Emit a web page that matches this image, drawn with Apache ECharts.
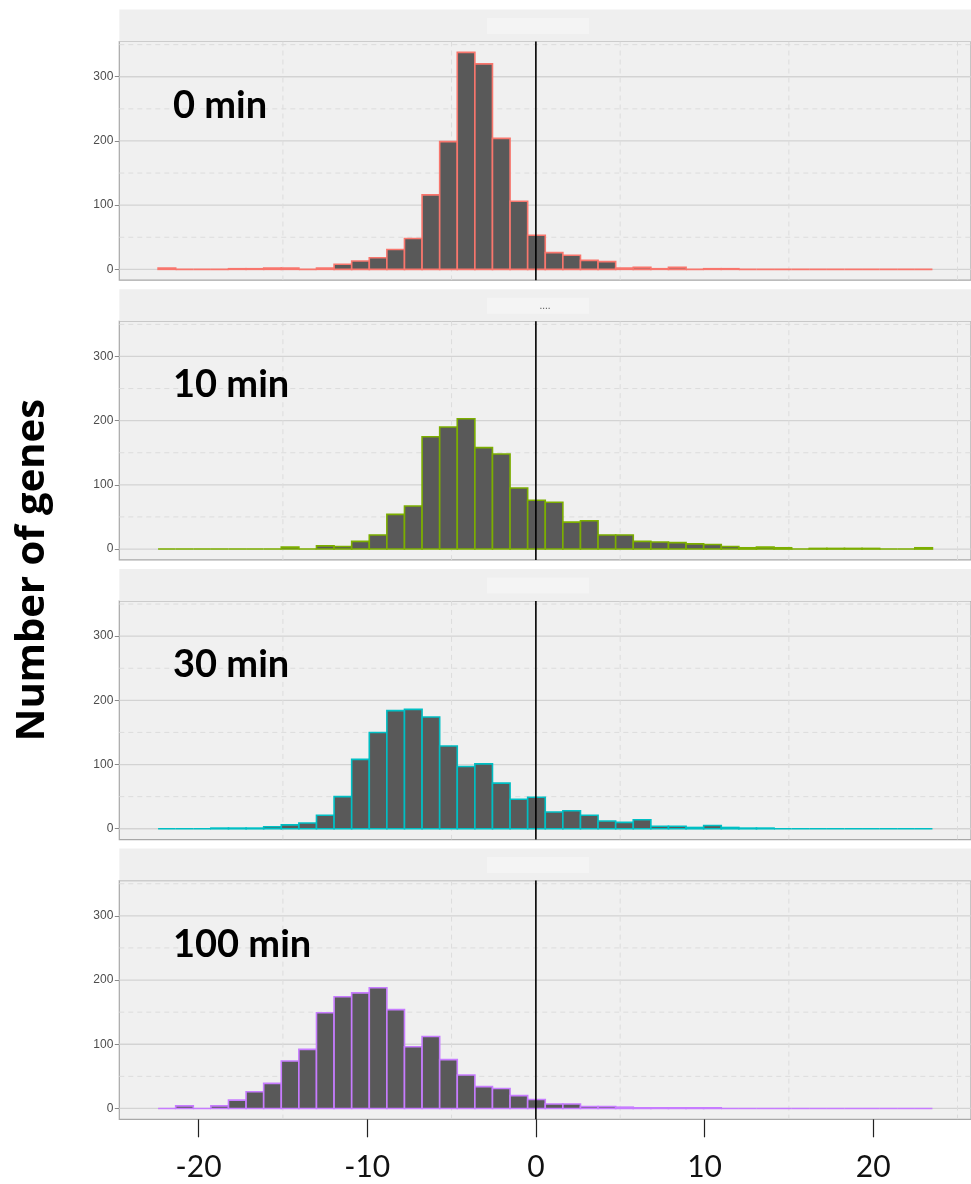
<!DOCTYPE html>
<html><head><meta charset="utf-8">
<script src="https://cdn.jsdelivr.net/npm/echarts@6/dist/echarts.min.js"></script>
<style>html,body{margin:0;padding:0;background:#fff;}#c{width:971px;height:1184px;}</style>
</head><body><div id="c"></div>
<script>
// ---- data ----
const BIN_START = -22.4;
const BIN_WIDTH = 1.0435;
const panelLabels = ['0 min', '10 min', '30 min', '100 min'];
const panelColors = ['#F8766D', '#7CAE00', '#00BFC4', '#C77CFF'];
const counts0 = [2,0,0,0,1,1,2,2,0,2,8,13,18,31,48,116,199,338,320,204,106,53,26,22,14,12,2,3,1,3,0,1,1,0,0,0,0,0,0,0,0,0,0,0];
const counts10 = [0,0,0,0,0,0,0,3,0,5,4,12,22,54,67,175,190,203,158,148,95,76,73,42,44,22,22,12,11,10,8,7,4,2,3,2,0,1,1,1,1,0,0,2];
const counts30 = [0,0,0,1,1,1,3,6,9,21,50,108,150,184,186,174,129,97,101,71,46,49,26,28,21,12,10,14,4,4,2,5,2,1,1,0,0,0,0,0,0,0,0,0];
const counts100 = [0,4,0,4,13,26,39,74,92,149,174,180,188,154,96,112,76,52,34,31,20,14,7,7,3,3,2,1,1,1,1,1,0,0,0,0,0,0,0,0,0,0,0,0];
const allCounts = [counts0, counts10, counts30, counts100];
const yTickValues = [0, 100, 200, 300];
const yMinorValues = [50, 150, 250, 350];
const xTickValues = [-20, -10, 0, 10, 20];
const xMinorValues = [-15, -5, 5, 15, 25];
const refLineX = [0];
const yTitle = 'Number of genes';
const stripDots = ['', '....', '', ''];

// ---- layout ----
const X_MIN = -24.7, X_MAX = 25.8, Y_MIN = -16.9, Y_MAX = 354.9;
const GL = 119.3, GW = 853.4, GH = 238.7, TOP0 = 41.5, STEP = 279.7, STRIP_H = 32;

const chart = echarts.init(document.getElementById('c'), null, {renderer: 'canvas'});

const grids = [], xAxes = [], yAxes = [], series = [], graphics = [];
const gridRows = [];
yTickValues.forEach(v => gridRows.push([0, v, 0]));
yMinorValues.forEach(v => gridRows.push([0, v, 1]));
xMinorValues.forEach(v => gridRows.push([1, v, 1]));

for (let p = 0; p < 4; p++) {
  const top = TOP0 + p * STEP;
  const last = p === 3;
  grids.push({left: GL, top: top, width: GW, height: GH, show: true,
    backgroundColor: '#F0F0F0', borderColor: '#A8A8A8', borderWidth: 1.2, containLabel: false});
  xAxes.push({type: 'value', gridIndex: p, min: X_MIN, max: X_MAX, position: 'bottom',
    axisLine: {show: false, onZero: false}, splitLine: {show: false},
    axisTick: {show: last, inside: false, customValues: xTickValues, length: 18, lineStyle: {color: '#222', width: 1.2}},
    axisLabel: {show: last, customValues: xTickValues, margin: 33, fontFamily: 'Lato', fontSize: 30, color: '#111',
      formatter: v => String(v)}});
  yAxes.push({type: 'value', gridIndex: p, min: Y_MIN, max: Y_MAX, position: 'left',
    axisLine: {show: false, onZero: false}, splitLine: {show: false},
    axisTick: {show: true, customValues: yTickValues, length: 4.5, lineStyle: {color: '#8a8a8a', width: 1}},
    axisLabel: {show: true, customValues: yTickValues, margin: 6, fontFamily: 'Liberation Sans', fontSize: 12, color: '#4D4D4D'}});

  // grid lines
  series.push({type: 'custom', xAxisIndex: p, yAxisIndex: p, z: 1, silent: true, clip: true,
    data: gridRows,
    renderItem: function (params, api) {
      const cs = params.coordSys;
      const o = api.value(0), v = api.value(1), d = api.value(2);
      const style = {stroke: d ? '#DCDCDC' : '#D3D3D3', lineWidth: d ? 1 : 1.3, lineDash: d ? [5, 4] : null};
      if (o === 0) {
        const y = api.coord([0, v])[1];
        return {type: 'line', shape: {x1: cs.x, y1: y, x2: cs.x + cs.width, y2: y}, style: style};
      }
      const x = api.coord([v, 0])[0];
      return {type: 'line', shape: {x1: x, y1: cs.y, x2: x, y2: cs.y + cs.height}, style: style};
    }});

  // histogram
  const rows = allCounts[p].map((c, i) => [BIN_START + i * BIN_WIDTH, BIN_START + (i + 1) * BIN_WIDTH, c]);
  const col = panelColors[p];
  series.push({type: 'custom', xAxisIndex: p, yAxisIndex: p, z: 3, silent: true,
    data: rows,
    encode: {x: [0, 1], y: 2},
    renderItem: function (params, api) {
      const a = api.coord([api.value(0), api.value(2)]);
      const b = api.coord([api.value(1), 0]);
      return {type: 'rect', shape: {x: a[0], y: a[1], width: b[0] - a[0], height: b[1] - a[1]},
        style: {fill: '#595959', stroke: col, lineWidth: 1.6}};
    }});

  // zero reference line
  series.push({type: 'custom', xAxisIndex: p, yAxisIndex: p, z: 5, silent: true,
    data: refLineX.map(v => [v]),
    renderItem: function (params, api) {
      const cs = params.coordSys;
      const x = api.coord([api.value(0), 0])[0];
      return {type: 'line', shape: {x1: x, y1: cs.y, x2: x, y2: cs.y + cs.height},
        style: {stroke: '#000', lineWidth: 1.6}};
    }});

  // strip
  graphics.push({type: 'rect', shape: {x: GL, y: top - STRIP_H, width: 971 - GL, height: STRIP_H},
    style: {fill: '#EFEFEF'}, z: 0});
  graphics.push({type: 'rect', shape: {x: 487, y: top - STRIP_H + 8.5, width: 102, height: 16},
    style: {fill: '#F4F4F4'}, z: 1});
  if (stripDots[p]) {
    graphics.push({type: 'text', x: 545, y: top - STRIP_H + 17, z: 2,
      style: {text: stripDots[p], fontFamily: 'Liberation Sans', fontSize: 10, fill: '#555', align: 'center', verticalAlign: 'middle'}});
  }
  // panel label
  graphics.push({type: 'text', x: 173, y: top + 64, z: 10,
    style: {text: panelLabels[p], fontFamily: 'Lato', fontWeight: 'bold', fontSize: 38, fill: '#000', align: 'left', verticalAlign: 'middle'}});
}

graphics.push({type: 'text', x: 33, y: 570, rotation: Math.PI / 2, z: 10,
  style: {text: yTitle, fontFamily: 'Open Sans', fontWeight: 'bold', fontSize: 40, fill: '#000', align: 'center', verticalAlign: 'middle'}});

chart.setOption({
  animation: false,
  backgroundColor: '#FFFFFF',
  grid: grids, xAxis: xAxes, yAxis: yAxes, series: series, graphic: graphics
});
</script></body></html>
